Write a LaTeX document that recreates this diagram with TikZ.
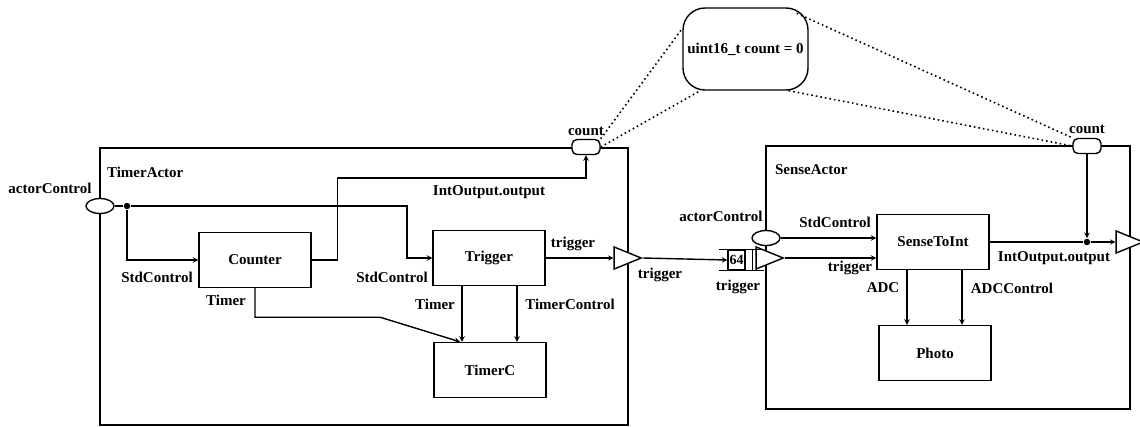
\documentclass[tikz,border=0pt]{standalone}
\usepackage{fontspec}
\setmainfont{Liberation Serif}
\usetikzlibrary{shapes.geometric}
\begin{document}
\begin{tikzpicture}[x=1pt, y=-1pt, >=stealth, line width=1.4pt, font=\fontsize{15}{17}\selectfont\bfseries]
    \tikzstyle{comp}=[rectangle,draw,minimum width=112pt,minimum height=55pt]
    \tikzstyle{actor}=[rectangle,draw]
    \tikzstyle{ctrl}=[ellipse,draw,fill=white,minimum width=28pt,minimum height=15pt,inner sep=0pt]
    \tikzstyle{var}=[rectangle,draw,fill=white,rounded corners=5pt,minimum width=28pt,minimum height=15pt,inner sep=0pt]
    \tikzstyle{evt}=[isosceles triangle,isosceles triangle stretches,draw,fill=white,inner sep=0pt,minimum width=22pt,minimum height=27pt]
    \tikzstyle{junc}=[circle,fill,inner sep=0pt,minimum size=6.5pt]
    \tikzstyle{shared}=[dash pattern=on 1.6pt off 3pt,line width=1.6pt]
    \useasboundingbox (0,0) rectangle (1140,426);
    % actors
    \node[actor,minimum width=528pt,minimum height=277pt] (timeractor) at (364,286.5) {};
    \node[actor,minimum width=364pt,minimum height=263pt] (senseactor) at (948,277.5) {};
    \node[anchor=west] at (103,172) {TimerActor};
    \node[anchor=west] at (771,170) {SenseActor};
    % shared variable
    \node[draw,rounded corners=22pt,minimum width=125pt,minimum height=82pt] (countvar) at (745.5,49) {uint16\_t count = 0};
    % components
    \node[comp] (counter) at (255,260) {Counter};
    \node[comp] (trigger) at (489,258) {Trigger};
    \node[comp] (timerc) at (490,370) {TimerC};
    \node[comp] (sensetoint) at (933,242) {SenseToInt};
    \node[comp] (photo) at (935,353) {Photo};
    % ports
    \node[ctrl] (tctrl) at (100,206) {};
    \node[var] (tcount) at (586,147) {};
    \node[evt,anchor=apex] (ttrig) at (643,258) {};
    \node[draw,inner sep=0pt,minimum width=17pt,minimum height=20pt] (queue) at (736.5,260) {\fontsize{14}{15}\selectfont 64};
    \node[ctrl] (sctrl) at (766,238) {};
    \node[evt,anchor=apex] (strig) at (785,258) {};
    \node[var] (scount) at (1087,146) {};
    \node[evt,anchor=apex] (sout) at (1145,242) {};
    \node[junc] (tsplit) at (127,206) {};
    \node[junc] (ssplit) at (1087,242) {};
    \draw ([xshift=-8pt]queue.north west) -- ([xshift=18pt]queue.north east);
    \draw ([xshift=-8pt]queue.south west) -- ([xshift=18pt]queue.south east);
    \draw ([xshift=7pt]queue.north east) -- ([xshift=7pt]queue.south east);
    % TimerActor wiring
    \draw (tctrl) -- (tsplit);
    \draw[->] (tsplit) -- ++(280,0) |- (trigger);
    \draw[->] (tsplit) |- (counter);
    \draw[->] (counter.east) -- ++(26,0) -- ++(0,-82) -| (tcount.south);
    \draw[->] (counter.south) -- ++(0,29) -- ++(125,0) -- ([xshift=-30pt]timerc.north);
    \draw[->] ([xshift=-27pt]trigger.south) -- ([xshift=-28pt]timerc.north);
    \draw[->] ([xshift=28pt]trigger.south) -- ([xshift=27pt]timerc.north);
    \draw[->] (trigger) -- (ttrig);
    \draw[->] (ttrig.apex) -- (queue.west);
    % SenseActor wiring
    \draw[->] (sctrl.east) -- (sctrl.east -| sensetoint.west);
    \draw[->] (strig.apex) -- (strig.apex -| sensetoint.west);
    \draw (sensetoint) -- (ssplit);
    \draw[->] (ssplit) -- (sout);
    \draw[->] (scount) -- (ssplit);
    \draw[->] ([xshift=-26pt]sensetoint.south) -- ([xshift=-28pt]photo.north);
    \draw[->] ([xshift=29pt]sensetoint.south) -- ([xshift=27pt]photo.north);
    % shared count
    \draw[shared] (tcount.north east) -- (countvar.162);
    \draw[shared] (tcount.east) -- ([xshift=18pt]countvar.south west);
    \draw[shared] ([xshift=-12pt,yshift=-6pt]countvar.north east) -- (scount.north west);
    \draw[shared] ([xshift=-20pt]countvar.south east) -- (scount.west);
    % labels
    \node at (50,188) {actorControl};
    \node at (157,277) {StdControl};
    \node at (226,300) {Timer};
    \node at (392,277) {StdControl};
    \node at (489,192) {IntOutput.output};
    \node at (573,244) {trigger};
    \node at (435,304) {Timer};
    \node at (570,304) {TimerControl};
    \node at (586,131) {count};
    \node at (660,275) {trigger};
    \node at (721,216) {actorControl};
    \node at (738,287) {trigger};
    \node at (835,222) {StdControl};
    \node at (850,268) {trigger};
    \node at (883,288) {ADC};
    \node at (1012,288) {ADCControl};
    \node at (1054,258) {IntOutput.output};
    \node at (1087,129) {count};
\end{tikzpicture}
\end{document}
